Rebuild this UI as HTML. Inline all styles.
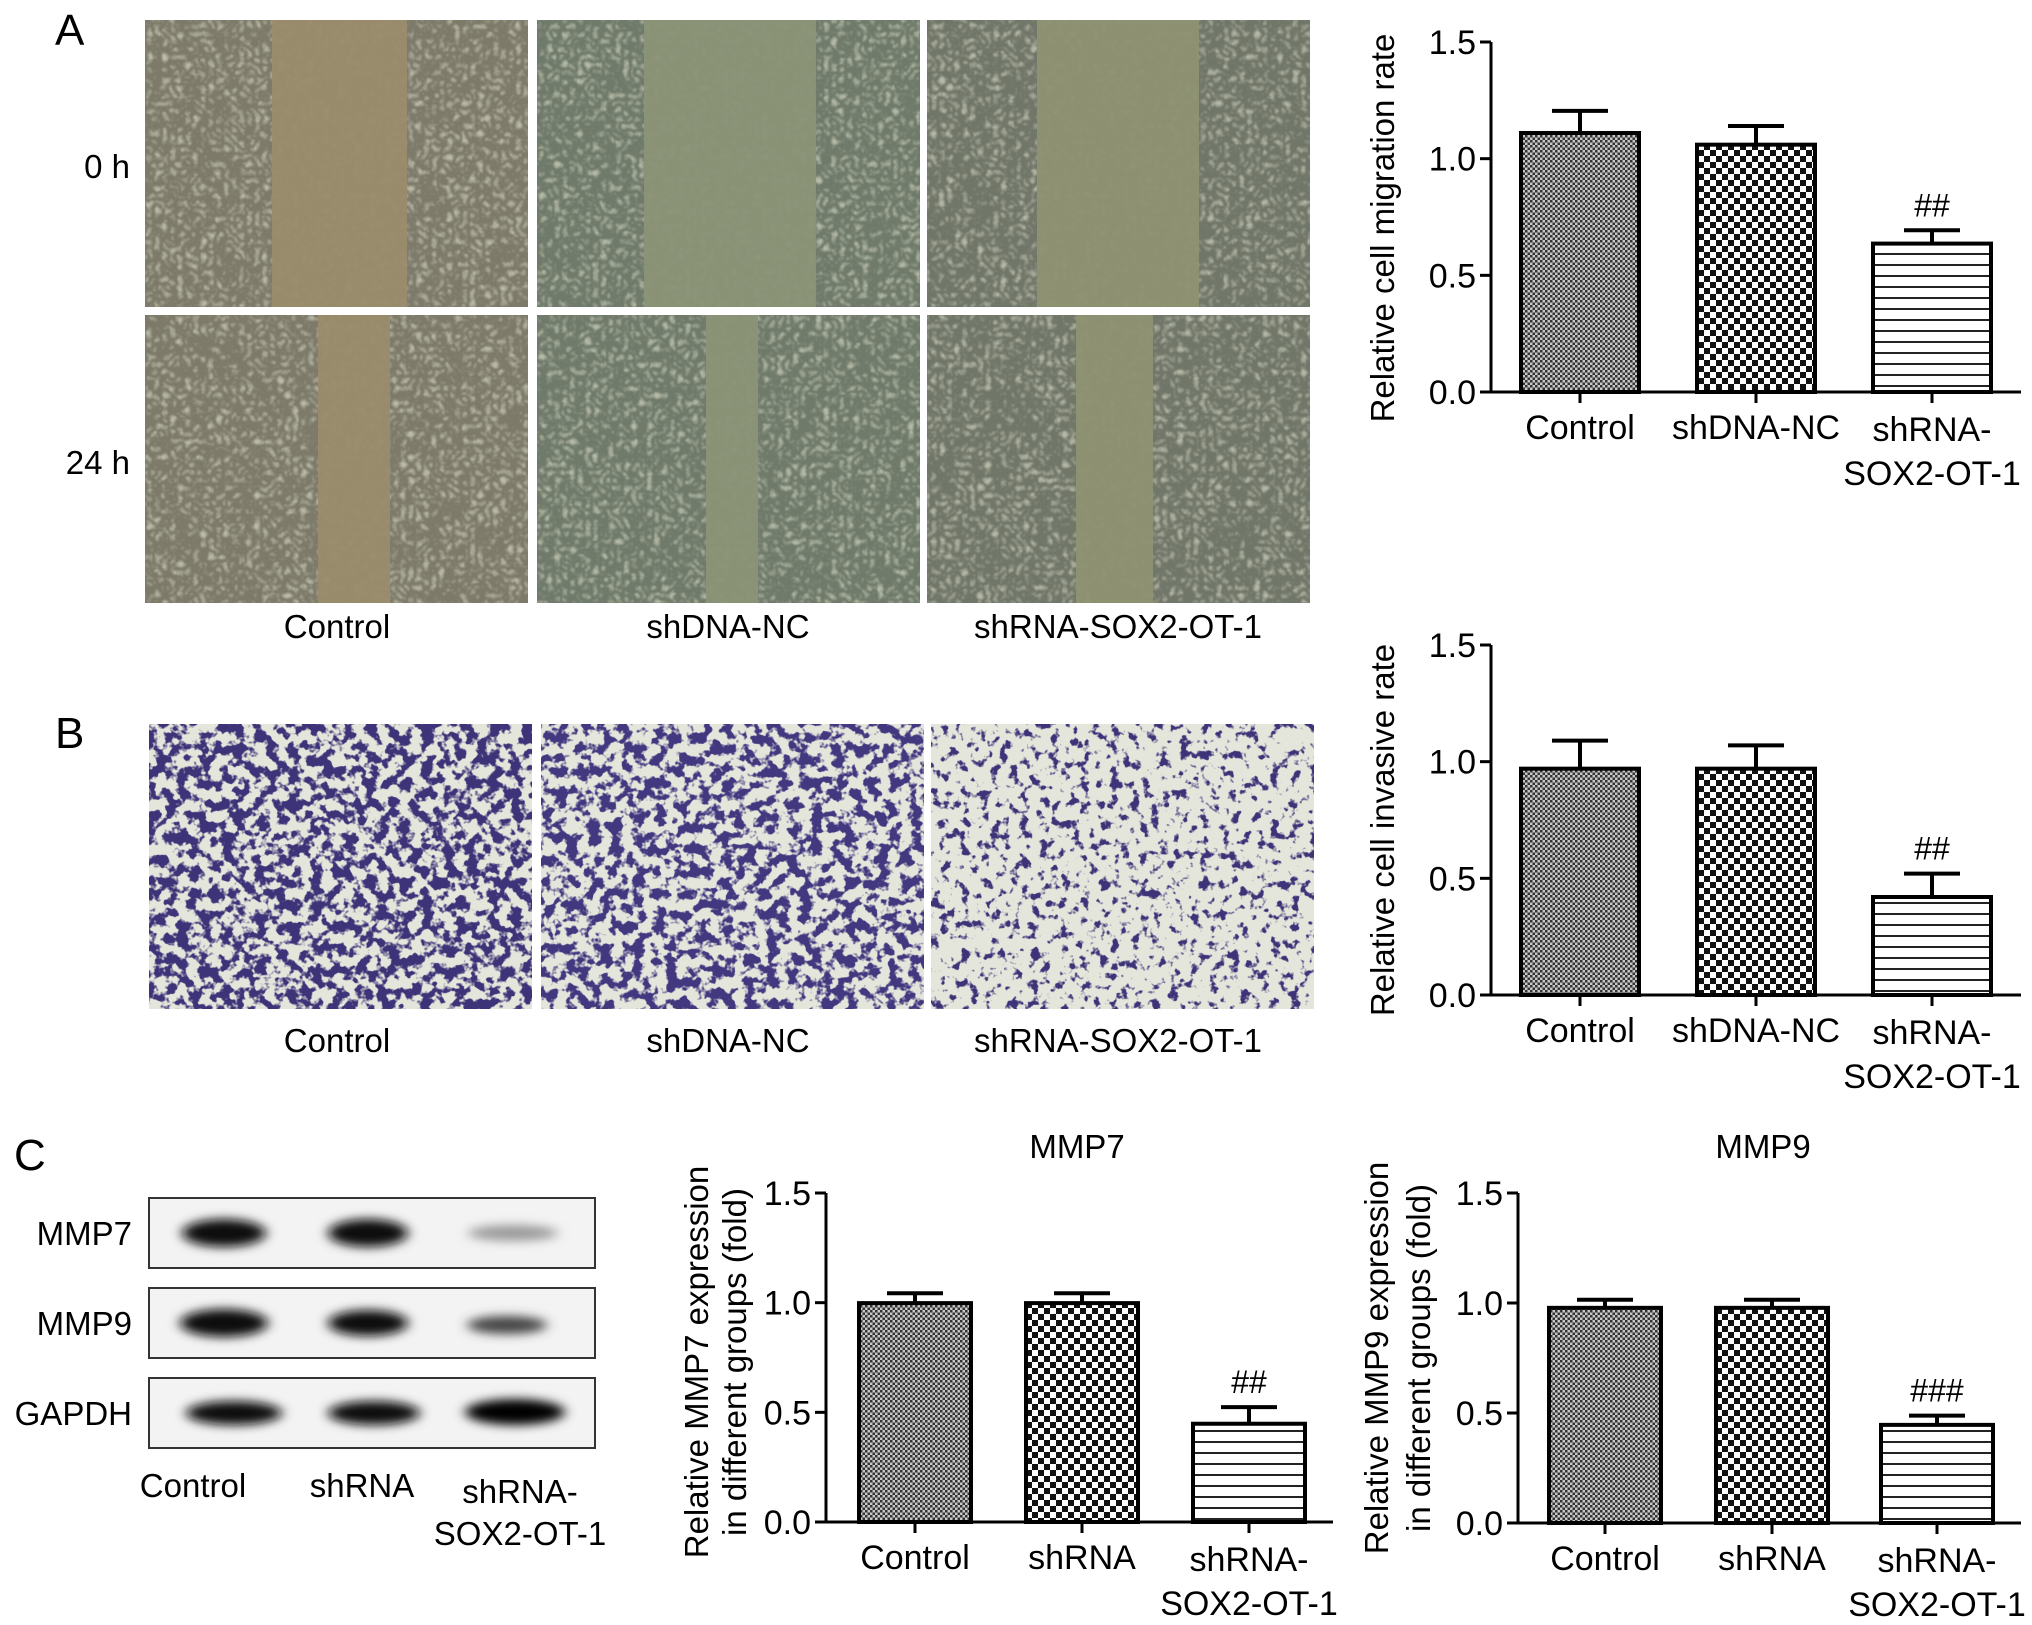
<!DOCTYPE html>
<html><head><meta charset="utf-8">
<style>
html,body{margin:0;padding:0;background:#fff;}
svg{display:block;font-family:"Liberation Sans",Arial,sans-serif;}
</style></head>
<body>
<svg id="fig" width="2032" height="1625" viewBox="0 0 2032 1625">
<defs>
  <pattern id="patFine" width="5" height="5" patternUnits="userSpaceOnUse">
    <rect width="5" height="5" fill="#c8c8c8"/>
    <rect width="2.5" height="2.5" fill="#333"/><rect x="2.5" y="2.5" width="2.5" height="2.5" fill="#333"/>
  </pattern>
  <pattern id="patCheck" width="12" height="12" patternUnits="userSpaceOnUse">
    <rect width="12" height="12" fill="#fff"/>
    <rect width="6" height="6" fill="#111"/><rect x="6" y="6" width="6" height="6" fill="#111"/>
  </pattern>
  <pattern id="patLines" width="12" height="11" patternUnits="userSpaceOnUse">
    <rect width="12" height="11" fill="#fff"/>
    <rect y="0" width="12" height="2" fill="#222"/>
  </pattern>
  <filter id="cells" x="0" y="0" width="100%" height="100%" color-interpolation-filters="sRGB">
    <feTurbulence type="turbulence" baseFrequency="0.13" numOctaves="2" seed="3"/>
    <feColorMatrix type="matrix" values="0 0 0 0 0.9  0 0 0 0 0.9  0 0 0 0 0.82  2.2 0 0 0 -0.45"/>
    <feGaussianBlur stdDeviation="0.8"/>
  </filter>
  <filter id="blobs1" x="0" y="0" width="100%" height="100%" color-interpolation-filters="sRGB">
    <feTurbulence type="fractalNoise" baseFrequency="0.09" numOctaves="3" seed="7"/>
    <feColorMatrix type="matrix" values="0 0 0 0 0.24  0 0 0 0 0.2  0 0 0 0 0.47  9 0 0 0 -4.1"/>
  </filter>
  <filter id="blobs2" x="0" y="0" width="100%" height="100%" color-interpolation-filters="sRGB">
    <feTurbulence type="fractalNoise" baseFrequency="0.09" numOctaves="3" seed="11"/>
    <feColorMatrix type="matrix" values="0 0 0 0 0.26  0 0 0 0 0.22  0 0 0 0 0.5  9 0 0 0 -4.2"/>
  </filter>
  <filter id="blobs3" x="0" y="0" width="100%" height="100%" color-interpolation-filters="sRGB">
    <feTurbulence type="fractalNoise" baseFrequency="0.1" numOctaves="3" seed="19"/>
    <feColorMatrix type="matrix" values="0 0 0 0 0.24  0 0 0 0 0.2  0 0 0 0 0.47  9 0 0 0 -5.0"/>
  </filter>
  <filter id="band" x="-20%" y="-50%" width="140%" height="200%"><feGaussianBlur stdDeviation="6 5"/></filter>
</defs>

<!-- Panel letters -->
<text x="55" y="45" font-size="44">A</text>
<text x="55" y="748" font-size="44">B</text>
<text x="14" y="1170" font-size="44">C</text>

<text x="130" y="178" font-size="33" text-anchor="end">0 h</text>
<text x="130" y="474" font-size="33" text-anchor="end">24 h</text>

<g id="micro"></g>

<text x="337" y="638" font-size="33" text-anchor="middle">Control</text>
<text x="728" y="638" font-size="33" text-anchor="middle">shDNA-NC</text>
<text x="1118" y="638" font-size="33" text-anchor="middle">shRNA-SOX2-OT-1</text>
<text x="337" y="1052" font-size="33" text-anchor="middle">Control</text>
<text x="728" y="1052" font-size="33" text-anchor="middle">shDNA-NC</text>
<text x="1118" y="1052" font-size="33" text-anchor="middle">shRNA-SOX2-OT-1</text>

<!-- Western blot -->
<g>
  <rect x="149" y="1198" width="446" height="70" fill="#f3f3f3" stroke="#333" stroke-width="2"/>
  <rect x="149" y="1288" width="446" height="70" fill="#f3f3f3" stroke="#333" stroke-width="2"/>
  <rect x="149" y="1378" width="446" height="70" fill="#f3f3f3" stroke="#333" stroke-width="2"/>
  <g filter="url(#band)">
    <ellipse cx="224" cy="1233" rx="42" ry="14" fill="#0a0a0a"/>
    <ellipse cx="368" cy="1233" rx="40" ry="14" fill="#0a0a0a"/>
    <ellipse cx="513" cy="1233" rx="45" ry="8" fill="#9a9a9a"/>
    <ellipse cx="224" cy="1323" rx="44" ry="14" fill="#0a0a0a"/>
    <ellipse cx="368" cy="1323" rx="40" ry="13" fill="#111"/>
    <ellipse cx="507" cy="1325" rx="40" ry="9" fill="#444"/>
    <ellipse cx="234" cy="1413" rx="48" ry="12" fill="#0a0a0a"/>
    <ellipse cx="374" cy="1413" rx="46" ry="12" fill="#0a0a0a"/>
    <ellipse cx="515" cy="1412" rx="50" ry="13" fill="#000"/>
  </g>
  <text x="132" y="1245" font-size="33" text-anchor="end">MMP7</text>
  <text x="132" y="1335" font-size="33" text-anchor="end">MMP9</text>
  <text x="132" y="1425" font-size="33" text-anchor="end">GAPDH</text>
  <text x="193" y="1497" font-size="33" text-anchor="middle">Control</text>
  <text x="362" y="1497" font-size="33" text-anchor="middle">shRNA</text>
  <text x="520" y="1503" font-size="33" text-anchor="middle">shRNA-</text>
  <text x="520" y="1545" font-size="33" text-anchor="middle">SOX2-OT-1</text>
</g>

<g id="charts"></g>
</svg>

<script>
// ---- Chart data ----
const catsA = ["Control", "shDNA-NC", "shRNA-|SOX2-OT-1"];
const migrationValues = [1.11, 1.06, 0.636];
const migrationErrors = [0.095, 0.08, 0.057];
const migrationSig = ["", "", "##"];

const invasionValues = [0.97, 0.97, 0.42];
const invasionErrors = [0.12, 0.10, 0.10];
const invasionSig = ["", "", "##"];

const catsC = ["Control", "shRNA", "shRNA-|SOX2-OT-1"];
const mmp7Values = [0.998, 0.998, 0.448];
const mmp7Errors = [0.045, 0.045, 0.076];
const mmp7Sig = ["", "", "##"];

const mmp9Values = [0.978, 0.978, 0.446];
const mmp9Errors = [0.037, 0.037, 0.042];
const mmp9Sig = ["", "", "###"];

const yTicks = [0, 0.5, 1.0, 1.5];
const yTickLabels = ["0.0", "0.5", "1.0", "1.5"];
const patterns = ["url(#patFine)", "url(#patCheck)", "url(#patLines)"];

const NS = "http://www.w3.org/2000/svg";
function mk(tag, attrs, parent) {
  const e = document.createElementNS(NS, tag);
  for (const k in attrs) e.setAttribute(k, attrs[k]);
  parent.appendChild(e);
  return e;
}

function drawChart(cfg) {
  const root = document.getElementById("charts");
  const g = mk("g", {}, root);
  
  
  const ymax = 1.5;
  const yScale = v => cfg.y0 - (v / ymax) * (cfg.y0 - cfg.y15);
  const xScale = i => cfg.centers[i];

  cfg.values.forEach((v, i) => {
    const cx = xScale(i);
    const errTop = yScale(v + cfg.errors[i]);
    const eLine = mk("line", {x1: cx, x2: cx, y1: yScale(v), y2: errTop, stroke: "#000", "stroke-width": 4}, g);
    
    
    const cap = mk("line", {x1: cx - 28, x2: cx + 28, y1: errTop, y2: errTop, stroke: "#000", "stroke-width": 4}, g);
    
    
    const top = yScale(v);
    const bar = mk("rect", {x: cx - cfg.bw / 2, y: top, width: cfg.bw, height: cfg.y0 - top, fill: patterns[i], stroke: "#000", "stroke-width": 4}, g);
    
    
    if (cfg.sig[i]) {
      const s = mk("text", {x: cx, y: errTop - 14, "font-size": 32, "text-anchor": "middle"}, g);
      s.textContent = cfg.sig[i];
      
      
    }
    const t = mk("line", {x1: cx, x2: cx, y1: cfg.y0, y2: cfg.y0 + 11, stroke: "#000", "stroke-width": 3}, g);
    
    
    const parts = cfg.cats[i].split("|");
    parts.forEach((p, j) => {
      const lt = mk("text", {x: cx, y: cfg.y0 + (parts.length > 1 ? 49 : 47) + j * 44, "font-size": 34, "text-anchor": "middle"}, g);
      lt.textContent = p;
      
      
    });
  });
  const ya = mk("line", {x1: cfg.ax, x2: cfg.ax, y1: cfg.y15, y2: cfg.y0 + 1.5, stroke: "#000", "stroke-width": 3}, g);
  
  
  const xa = mk("line", {x1: cfg.ax - 11, x2: cfg.xend, y1: cfg.y0, y2: cfg.y0, stroke: "#000", "stroke-width": 3}, g);
  
  
  yTicks.forEach((tv, k) => {
    const yy = yScale(tv);
    const tk = mk("line", {x1: cfg.ax - 11, x2: cfg.ax, y1: yy, y2: yy, stroke: "#000", "stroke-width": 3}, g);
    
    
    const tl = mk("text", {x: cfg.ax - 15, y: yy + 12, "font-size": 34, "text-anchor": "end"}, g);
    tl.textContent = yTickLabels[k];
    
    
  });
  cfg.titleLines.forEach((line, j) => {
    const tx = cfg.titleX[j], ty = cfg.titleY;
    const tt = mk("text", {x: tx, y: ty, "font-size": 33, "text-anchor": "middle", transform: "rotate(-90 " + tx + " " + ty + ")"}, g);
    tt.textContent = line;
    
    
  });
  if (cfg.title) {
    const ct = mk("text", {x: cfg.title[1], y: cfg.title[2], "font-size": 33, "text-anchor": "middle"}, g);
    ct.textContent = cfg.title[0];
    
    
  }
}

drawChart({name: "migration-chart", cats: catsA, values: migrationValues, errors: migrationErrors, sig: migrationSig,
  ax: 1491, y0: 392, y15: 42, xend: 2021, centers: [1580, 1756, 1932], bw: 118,
  titleLines: ["Relative cell migration rate"], titleX: [1394], titleY: 228});
drawChart({name: "invasion-chart", cats: catsA, values: invasionValues, errors: invasionErrors, sig: invasionSig,
  ax: 1491, y0: 995, y15: 645, xend: 2021, centers: [1580, 1756, 1932], bw: 118,
  titleLines: ["Relative cell invasive rate"], titleX: [1394], titleY: 830});
drawChart({name: "mmp7-chart", cats: catsC, values: mmp7Values, errors: mmp7Errors, sig: mmp7Sig,
  ax: 826, y0: 1522, y15: 1193, xend: 1333, centers: [915, 1082, 1249], bw: 112,
  titleLines: ["Relative MMP7 expression", "in different groups (fold)"], titleX: [708, 746], titleY: 1362,
  title: ["MMP7", 1077, 1158]});
drawChart({name: "mmp9-chart", cats: catsC, values: mmp9Values, errors: mmp9Errors, sig: mmp9Sig,
  ax: 1518, y0: 1523, y15: 1193, xend: 2021, centers: [1605, 1772, 1937], bw: 112,
  titleLines: ["Relative MMP9 expression", "in different groups (fold)"], titleX: [1388, 1430], titleY: 1358,
  title: ["MMP9", 1763, 1158]});

// ---- Micrographs ----
const mg = document.getElementById("micro");
const colX = [145, 537, 927];
const imgW = 383;
const rowsA = [[20, 287], [315, 288]];
const gapsTop = [[272, 407], [644, 816], [1037, 1199]];
const gapsBot = [[318, 390], [706, 758], [1076, 1153]];
const baseCols = ["#7d7a6a", "#6f7a6a", "#707668"];
const gapCols = ["#9a8c6c", "#8b9477", "#8e9273"];
colX.forEach((x, i) => {
  [0, 1].forEach(r => {
    const [y, h] = rowsA[r];
    const g = mk("g", {}, mg);
    
    
    mk("rect", {x: x, y: y, width: imgW, height: h, fill: baseCols[i]}, g);
    mk("rect", {x: x, y: y, width: imgW, height: h, filter: "url(#cells)", opacity: 0.6}, g);
    const gp = (r ? gapsBot : gapsTop)[i];
    mk("rect", {x: gp[0], y: y, width: gp[1] - gp[0], height: h, fill: gapCols[i], opacity: 0.95}, g);
  });
});
const rowB = [724, 285];
const blobF = ["url(#blobs1)", "url(#blobs2)", "url(#blobs3)"];
colX.forEach((x, i) => {
  const g = mk("g", {}, mg);
  
  
  mk("rect", {x: x + 4, y: rowB[0], width: imgW, height: rowB[1], fill: "#e4e6dc"}, g);
  mk("rect", {x: x + 4, y: rowB[0], width: imgW, height: rowB[1], filter: blobF[i]}, g);
});
</script>
</body></html>
